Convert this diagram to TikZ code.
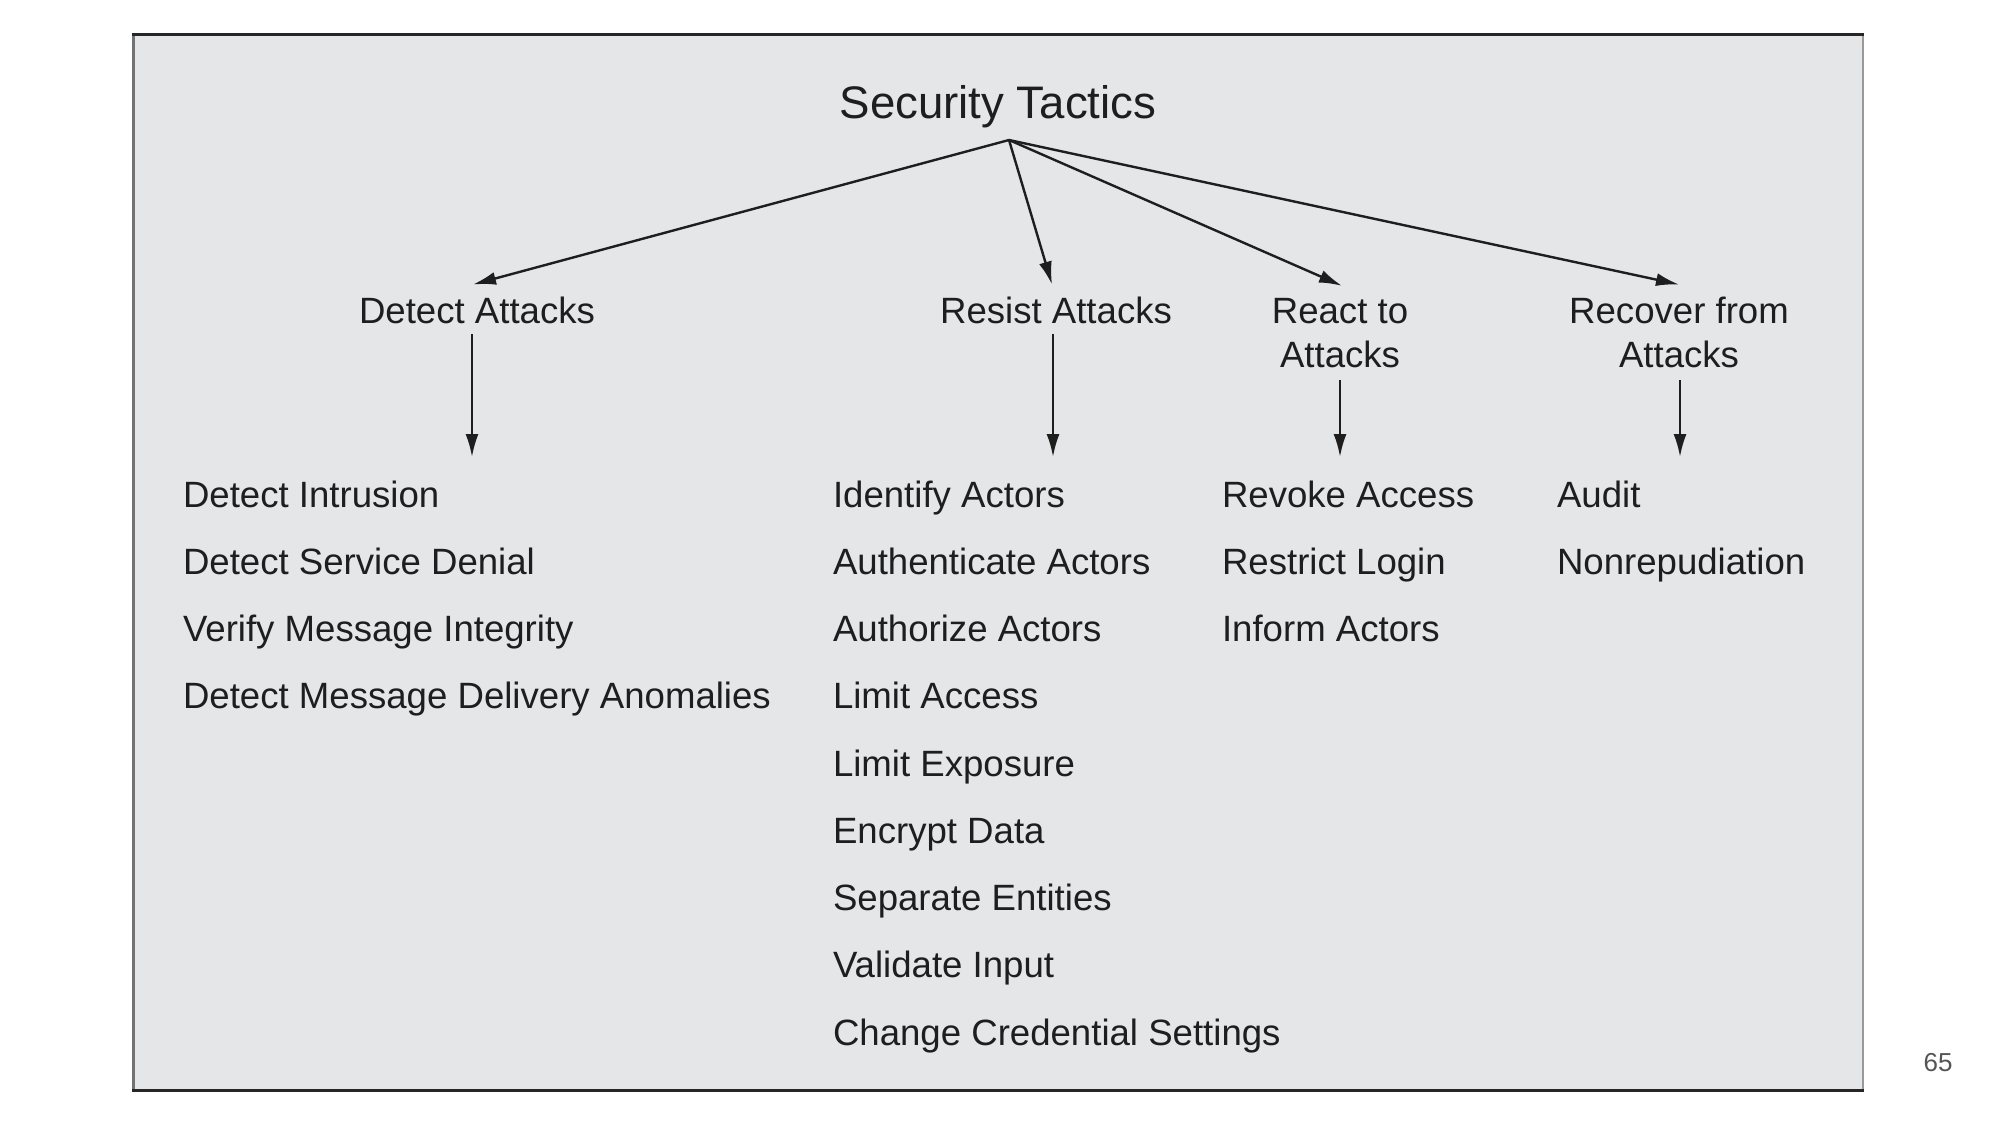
\documentclass[tikz,border=0pt]{standalone}
\usepackage{fontspec}
\setmainfont{Liberation Sans}
\usetikzlibrary{arrows.meta}
\definecolor{bg}{HTML}{E5E6E8}
\definecolor{ink}{HTML}{1E1E1E}
\definecolor{pagenum}{HTML}{555555}
\begin{document}
\begin{tikzpicture}[x=0.5pt,y=-0.5pt,
  lbl/.style={font=\fontsize{18.3}{22}\selectfont, text=ink, inner sep=0pt, outer sep=0pt},
  head/.style={lbl, anchor=base, align=center},
  item/.style={lbl, anchor=base west},
  arr/.style={draw=ink, line width=1.2pt, -{Latex[length=11.5pt,width=6.5pt]}}]
\useasboundingbox (0,0) rectangle (2000,1125);
\fill[white] (0,0) rectangle (2000,1125);
% frame
\fill[bg] (133,34) rectangle (1863,1090);
\draw[line width=1.5pt, black!55] (133,1090) -- (133,34);
\draw[line width=1.2pt, black!40] (1863,34) -- (1863,1090);
\draw[line width=1.5pt, black!85] (132,34) -- (1864,34);
\draw[line width=1.5pt, black!85] (132,1090) -- (1864,1090);
% title
\node[lbl, font=\fontsize{22.8}{27}\selectfont, anchor=base] (top) at (998,118) {Security Tactics};
\coordinate (apex) at (1009,140);
% second level
\node[head] (det) at (477,323) {Detect Attacks};
\node[head] (res) at (1056,323) {Resist Attacks};
\node[head] (rea) at (1340,367) {React to\\Attacks};
\node[head] (rec) at (1679,367) {Recover from\\Attacks};
\draw[arr] (apex) -- ([xshift=-2pt,yshift=6pt]det.north);
\draw[arr] (apex) -- ([xshift=-2pt,yshift=6pt]res.north);
\draw[arr] (apex) -- ([xshift=1pt,yshift=6pt]rea.north);
\draw[arr] (apex) -- ([yshift=6pt]rec.north);
% down arrows
\coordinate (detE) at (472,457);
\coordinate (resE) at (1053,457);
\coordinate (reaE) at (1340,457);
\coordinate (recE) at (1680,457);
\draw[arr, shorten <=5.5pt] (det.south -| detE) -- (detE);
\draw[arr, shorten <=5.5pt] (res.south -| resE) -- (resE);
\draw[arr, shorten <=6.5pt] (rea.south -| reaE) -- (reaE);
\draw[arr, shorten <=6.5pt] (rec.south -| recE) -- (recE);
% lists
\node[item] (d1) at (183,507) {Detect Intrusion};
\node[item] (d2) at (183,574.25) {Detect Service Denial};
\node[item] (d3) at (183,641.5) {Verify Message Integrity};
\node[item] (d4) at (183,708.75) {Detect Message Delivery Anomalies};
\node[item] (s1) at (833,507) {Identify Actors};
\node[item] (s2) at (833,574.25) {Authenticate Actors};
\node[item] (s3) at (833,641.5) {Authorize Actors};
\node[item] (s4) at (833,708.75) {Limit Access};
\node[item] (s5) at (833,776) {Limit Exposure};
\node[item] (s6) at (833,843.25) {Encrypt Data};
\node[item] (s7) at (833,910.5) {Separate Entities};
\node[item] (s8) at (833,977.75) {Validate Input};
\node[item] (s9) at (833,1045) {Change Credential Settings};
\node[item] (r1) at (1222,507) {Revoke Access};
\node[item] (r2) at (1222,574.25) {Restrict Login};
\node[item] (r3) at (1222,641.5) {Inform Actors};
\node[item] (c1) at (1557,507) {Audit};
\node[item] (c2) at (1557,574.25) {Nonrepudiation};
% page number
\node[font=\fontsize{13}{15}\selectfont, text=pagenum, inner sep=0pt] (pg) at (1938,1063) {65};
\end{tikzpicture}
\end{document}
